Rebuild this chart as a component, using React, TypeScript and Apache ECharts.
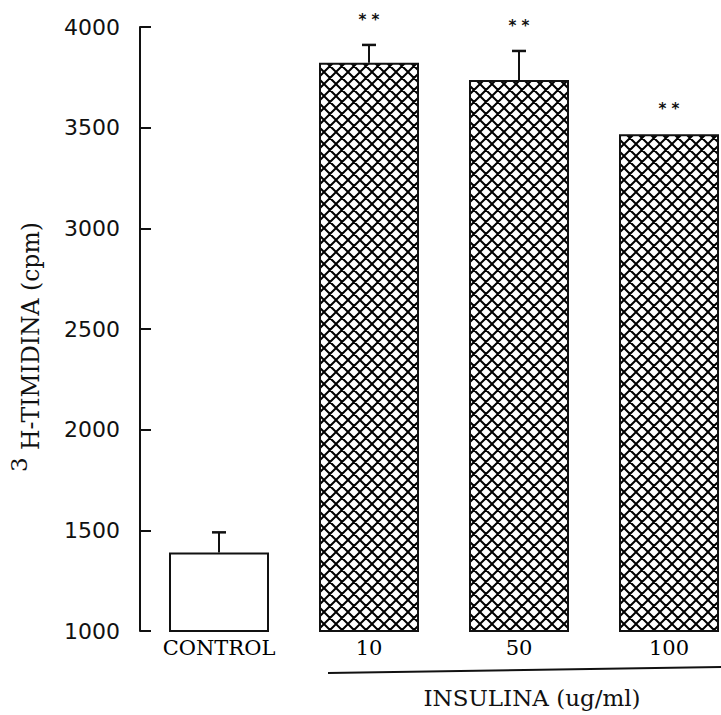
import React, { useEffect, useRef } from "react";
import * as echarts from "echarts";

// ---- data ----
const categories = ["CONTROL", "10", "50", "100"];
const means = [1390, 3822, 3737, 3467];
const errors = [100, 89, 144, 0];
const marks = ["", "* *", "* *", "* *"];
const yMin = 1000;
const yMax = 4000;
const yInterval = 500;
const yTitleSup = "3";
const yTitleMain = "H-TIMIDINA (cpm)";
const groupTitle = "INSULINA (ug/ml)";

const T = 12;
const hatchSvg =
  `<svg xmlns='http://www.w3.org/2000/svg' width='${T}' height='${T}' viewBox='0 0 ${T} ${T}'>` +
  `<path d='M-1,1 l2,-2 M0,${T} l${T},-${T} M${T - 1},${T + 1} l2,-2 M-1,${T - 1} l2,2 M0,0 l${T},${T} M${T - 1},-1 l2,2' ` +
  "stroke='black' stroke-width='2' fill='none'/></svg>";
const hatchUrl = "data:image/svg+xml;charset=utf-8," + encodeURIComponent(hatchSvg);

export default function App() {
  const ref = useRef<HTMLDivElement>(null);

  useEffect(() => {
    if (!ref.current) return;
    const chart = echarts.init(ref.current, null, { renderer: "svg" });
    const pattern: any = { image: hatchUrl, repeat: "repeat", imageWidth: T, imageHeight: T };

    const barData = means.map((v, i) => ({
      value: v,
      itemStyle: { color: i === 0 ? "#ffffff" : pattern },
    }));
    const errData = means.map((v, i) => [i, v, errors[i]]);

    chart.setOption({
      animation: false,
      backgroundColor: "#ffffff",
      grid: { left: 144, top: 27, width: 600, bottom: 84 },
      xAxis: {
        type: "category",
        data: categories,
        axisLine: { show: false },
        axisTick: { show: false },
        axisLabel: {
          fontFamily: "DejaVu Serif",
          fontSize: 21,
          color: "#000",
          margin: 6,
          lineHeight: 22,
        },
      },
      yAxis: {
        type: "value",
        min: yMin,
        max: yMax,
        interval: yInterval,
        offset: 4,
        axisLine: { show: true, lineStyle: { color: "#111", width: 2 } },
        axisTick: { show: true, inside: true, length: 11, lineStyle: { color: "#111", width: 2 } },
        splitLine: { show: false },
        axisLabel: {
          fontFamily: "DejaVu Sans",
          fontSize: 22,
          color: "#111",
          margin: 20,
          formatter: (v: number) => String(v),
        },
      },
      series: [
        {
          type: "bar",
          data: barData,
          barWidth: 100,
          itemStyle: { borderColor: "#111", borderWidth: 2 },
          z: 2,
        },
        {
          type: "custom",
          data: errData,
          z: 5,
          renderItem: (params: any, api: any) => {
            const i = api.value(0);
            const m = api.value(1);
            const e = api.value(2);
            const base = api.coord([i, m]);
            const top = api.coord([i, m + e]);
            const children: any[] = [];
            if (e > 0) {
              children.push({
                type: "line",
                shape: { x1: base[0], y1: base[1], x2: top[0], y2: top[1] },
                style: { stroke: "#111", lineWidth: 2 },
              });
              children.push({
                type: "line",
                shape: { x1: top[0] - 7, y1: top[1], x2: top[0] + 7, y2: top[1] },
                style: { stroke: "#111", lineWidth: 2.5 },
              });
            }
            const mk = marks[params.dataIndex];
            if (mk) {
              children.push({
                type: "text",
                x: top[0],
                y: top[1] - 25,
                style: {
                  text: mk,
                  fontFamily: "DejaVu Sans",
                  fontSize: 15,
                  fontWeight: "bold",
                  fill: "#111",
                  align: "center",
                  verticalAlign: "middle",
                },
              });
            }
            return { type: "group", children };
          },
        },
      ],
      graphic: [
        {
          type: "text",
          x: 19,
          y: 472,
          rotation: Math.PI / 2,
          style: {
            text: yTitleSup,
            fontFamily: "DejaVu Serif",
            fontSize: 23,
            fill: "#111",
            align: "left",
            verticalAlign: "middle",
          },
        },
        {
          type: "text",
          x: 31,
          y: 450,
          rotation: Math.PI / 2,
          style: {
            text: yTitleMain,
            fontFamily: "DejaVu Serif",
            fontSize: 23.5,
            fill: "#111",
            align: "left",
            verticalAlign: "middle",
          },
        },
        {
          type: "line",
          shape: { x1: 328, y1: 673, x2: 725, y2: 667 },
          style: { stroke: "#111", lineWidth: 2 },
        },
        {
          type: "text",
          x: 532,
          y: 698,
          style: {
            text: groupTitle,
            fontFamily: "DejaVu Serif",
            fontSize: 23,
            fill: "#111",
            align: "center",
            verticalAlign: "middle",
          },
        },
      ],
    });

    return () => chart.dispose();
  }, []);

  return (
    <div
      style={{
        position: "absolute",
        left: 0,
        top: 0,
        width: 721,
        height: 715,
        overflow: "hidden",
        background: "#fff",
      }}
    >
      <div ref={ref} style={{ width: 760, height: 715 }} />
    </div>
  );
}
